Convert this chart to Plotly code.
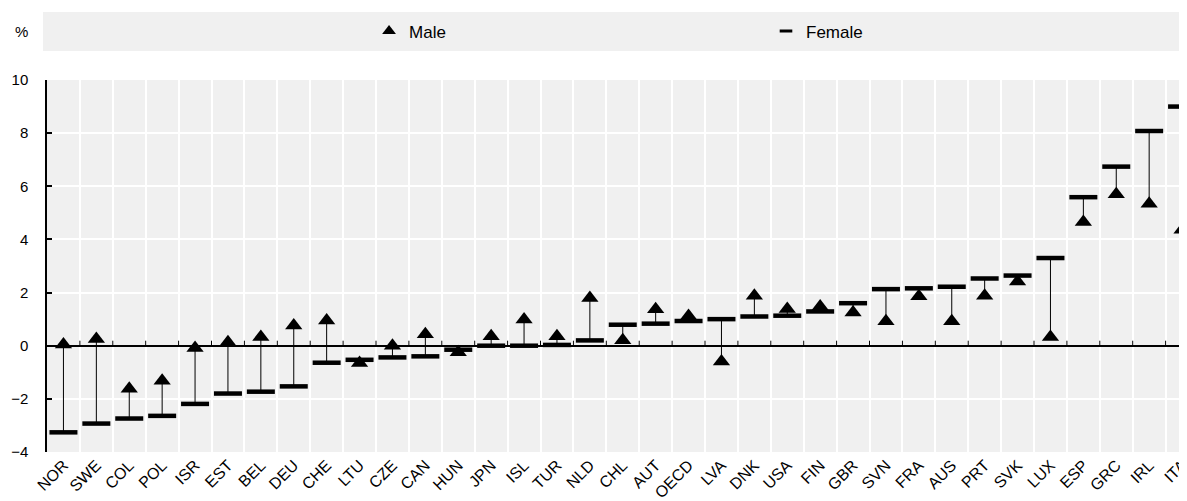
import plotly.graph_objects as go

countries = ["NOR", "SWE", "COL", "POL", "ISR", "EST", "BEL", "DEU", "CHE", "LTU",
             "CZE", "CAN", "HUN", "JPN", "ISL", "TUR", "NLD", "CHL", "AUT", "OECD",
             "LVA", "DNK", "USA", "FIN", "GBR", "SVN", "FRA", "AUS", "PRT", "SVK",
             "LUX", "ESP", "GRC", "IRL", "ITA"]
male = [0.05, 0.25, -1.62, -1.32, -0.09, 0.13, 0.33, 0.76, 0.95, -0.65,
        0.00, 0.43, -0.25, 0.36, 0.99, 0.36, 1.80, 0.21, 1.37, 1.12,
        -0.59, 1.88, 1.38, 1.48, 1.25, 0.92, 1.86, 0.92, 1.88, 2.42,
        0.33, 4.66, 5.70, 5.34, 4.36]
female = [-3.26, -2.93, -2.74, -2.64, -2.19, -1.80, -1.73, -1.53, -0.64, -0.53,
          -0.44, -0.40, -0.15, 0.00, 0.00, 0.03, 0.20, 0.79, 0.83, 0.93,
          1.00, 1.10, 1.13, 1.29, 1.60, 2.13, 2.16, 2.22, 2.53, 2.64,
          3.30, 5.59, 6.74, 8.08, 9.00]
y_ticks = [-4, -2, 0, 2, 4, 6, 8, 10]

FONT = "Liberation Sans, Arial, sans-serif"

# connector lines between female and male values
cx, cy = [], []
for c, f, m in zip(countries, female, male):
    cx += [c, c, None]
    cy += [f, m, None]

fig = go.Figure()
fig.add_trace(go.Scatter(x=cx, y=cy, mode="lines", line=dict(color="black", width=1),
                         showlegend=False, hoverinfo="skip"))
fig.add_trace(go.Scatter(x=countries, y=female, mode="markers", name="Female",
                         marker=dict(symbol="line-ew", size=20,
                                     line=dict(color="black", width=4.5)),
                         showlegend=False))
fig.add_trace(go.Scatter(x=countries, y=male, mode="markers", name="Male",
                         marker=dict(symbol="triangle-up", size=15, color="black"),
                         showlegend=False))
# legend entries
fig.add_trace(go.Scatter(x=[None], y=[None], mode="markers", name="Male",
                         legend="legend",
                         marker=dict(symbol="triangle-up", size=12, color="black")))
fig.add_trace(go.Scatter(x=[None], y=[None], mode="markers", name="Female",
                         legend="legend2",
                         marker=dict(symbol="line-ew", size=9,
                                     line=dict(color="black", width=3))))

# small tick marks on the zero line at category boundaries
shapes = []
for i in range(len(countries) - 1):
    shapes.append(dict(type="line", xref="x", yref="y", x0=i + 0.5, x1=i + 0.5,
                       ysizemode="pixel", yanchor=0, y0=0, y1=5,
                       line=dict(color="black", width=1), layer="above"))
# legend band
shapes.append(dict(type="rect", xref="paper", yref="paper", x0=-0.0035, x1=1.0,
                   y0=1.078, y1=1.183, fillcolor="#f0f0f0", line=dict(width=0),
                   layer="below"))

legend_common = dict(orientation="h", xanchor="left", y=1.1304, yanchor="middle",
                     bgcolor="rgba(0,0,0,0)", borderwidth=0,
                     font=dict(family=FONT, size=17, color="black"),
                     itemclick=False, itemdoubleclick=False)

# page body keeps the browser's default 8px margin, so the figure is sized to fit
fig.update_layout(
    width=1179, height=493,
    margin=dict(l=39, r=0, t=72, b=49, autoexpand=False),
    paper_bgcolor="white", plot_bgcolor="#f0f0f0",
    font=dict(family=FONT, size=15, color="black"),
    shapes=shapes,
    showlegend=True,
    legend=dict(x=0.2825, **legend_common),
    legend2=dict(x=0.6307, **legend_common),
    annotations=[dict(text="%", xref="paper", yref="paper", x=-0.022, y=1.1304,
                      xanchor="center", yanchor="middle", showarrow=False,
                      font=dict(family=FONT, size=15))],
)
fig.update_xaxes(type="category", categoryorder="array", categoryarray=countries,
                 range=[-0.5, 34.15], tickson="boundaries", showgrid=True,
                 gridcolor="white", gridwidth=2, ticks="", tickangle=-45,
                 tickfont=dict(family=FONT, size=16), showline=False, zeroline=False,
                 automargin=False)
fig.update_yaxes(range=[-4, 10], tickvals=y_ticks, showgrid=True, gridcolor="white",
                 gridwidth=2, zeroline=True, zerolinecolor="black", zerolinewidth=1.5,
                 showline=True, linecolor="black", linewidth=1.5, ticks="inside",
                 ticklen=5, tickcolor="black", tickwidth=1.5, ticklabelstandoff=14,
                 tickfont=dict(family=FONT, size=15), automargin=False)

fig.write_html("out.html")
